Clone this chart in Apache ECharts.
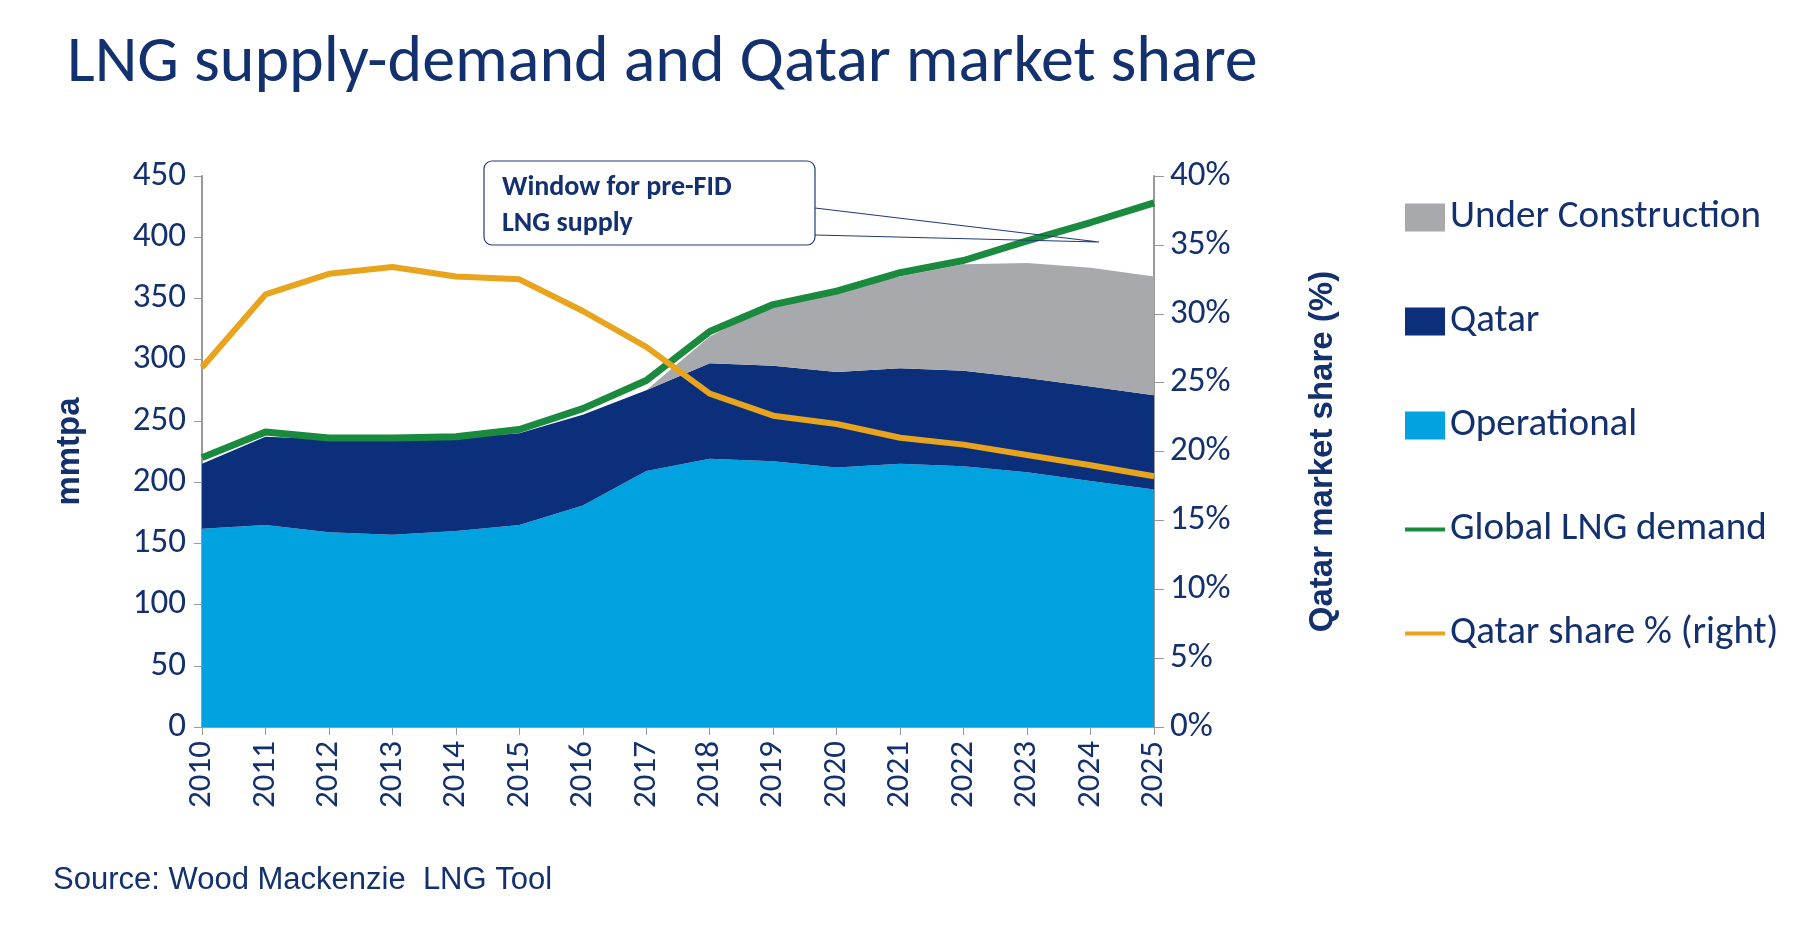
<!DOCTYPE html>
<html><head><meta charset="utf-8">
<script src="https://cdn.jsdelivr.net/npm/echarts@6/dist/echarts.min.js"></script>
<style>html,body{margin:0;padding:0;background:#fff}#c{width:1800px;height:942px}</style>
</head><body><div id="c"></div>
<script>
const years = ['2010','2011','2012','2013','2014','2015','2016','2017','2018','2019','2020','2021','2022','2023','2024','2025'];
const operational = [162,165,159,157,160,165,181,209,219,217,212,215,213,208,201,194];
const qatar = [53,72,76,78,76,75,74,66,78,78,78,78,78,77,77,77];
const underConstruction = [0,0,0,0,0,0,0,0,22,50,68,75,87,94,97,97];
const demand = [220,241,236,236,237,243,260,283,323,345,356,371,381,397,412,428];
const share = [26.1,31.4,32.9,33.4,32.7,32.5,30.2,27.6,24.2,22.6,22.0,21.0,20.5,19.75,19.0,18.2];

const navy = '#13306f';
const font = 'Calibri, Carlito, "Liberation Sans Narrow", Lato, sans-serif';
const chart = echarts.init(document.getElementById('c'));
chart.setOption({
  animation:false,
  textStyle:{fontFamily:font,color:navy},
  title:{text:'LNG supply-demand and Qatar market share',left:62,top:26,
    textStyle:{fontSize:66,fontWeight:'normal',color:navy,fontFamily:font}},
  grid:{left:202,right:646,top:176,bottom:215},
  legend:{orient:'vertical',left:1400,top:193,itemGap:65,itemWidth:40,itemHeight:28,
    textStyle:{fontSize:39,color:navy,fontFamily:font},
    data:[{name:'Under Construction',icon:'rect'},{name:'Qatar',icon:'rect'},{name:'Operational',icon:'rect'},
      {name:'Global LNG demand',icon:'path://M0,45 L100,45 L100,55 L0,55 Z',itemStyle:{color:'#1a8a3e'}},
      {name:'Qatar share % (right)',icon:'path://M0,45 L100,45 L100,55 L0,55 Z',itemStyle:{color:'#e8a41c'}}]},
  xAxis:{type:'category',data:years,boundaryGap:false,
    axisLine:{lineStyle:{color:'#9a9a9a',width:2}},
    axisTick:{show:true,alignWithLabel:true,length:8,lineStyle:{color:'#9a9a9a'}},
    axisLabel:{rotate:90,fontSize:33,color:navy,margin:14,fontFamily:font}},
  yAxis:[{type:'value',min:0,max:450,interval:50,name:'mmtpa',nameLocation:'middle',nameGap:116,
      nameTextStyle:{fontSize:33,fontWeight:'bold',color:navy,fontFamily:'"Liberation Sans", sans-serif'},
      axisLine:{show:true,lineStyle:{color:'#9a9a9a',width:2}},axisTick:{show:true,length:8,lineStyle:{color:'#9a9a9a'}},
      splitLine:{show:false},axisLabel:{fontSize:35,color:navy,margin:16,fontFamily:font}},
    {type:'value',min:0,max:40,interval:5,name:'Qatar market share (%)',nameLocation:'middle',nameGap:152,nameRotate:90,
      nameTextStyle:{fontSize:33,fontWeight:'bold',color:navy,fontFamily:'"Liberation Sans", sans-serif'},
      axisLine:{show:true,lineStyle:{color:'#9a9a9a',width:2}},axisTick:{show:true,length:10,lineStyle:{color:'#9a9a9a'}},
      splitLine:{show:false},axisLabel:{fontSize:35,color:navy,margin:16,formatter:'{value}%',fontFamily:font}}],
  series:[
    {name:'Operational',type:'line',stack:'s',data:operational,symbol:'none',lineStyle:{width:0},areaStyle:{color:'#00a3e0',opacity:1},itemStyle:{color:'#00a3e0'}},
    {name:'Qatar',type:'line',stack:'s',data:qatar,symbol:'none',lineStyle:{width:0},areaStyle:{color:'#0b2f7a',opacity:1},itemStyle:{color:'#0b2f7a'}},
    {name:'Under Construction',type:'line',stack:'s',data:underConstruction,symbol:'none',lineStyle:{width:0},areaStyle:{color:'#a7a9ac',opacity:1},itemStyle:{color:'#a7a9ac'}},
    {name:'Global LNG demand',type:'line',data:demand,symbol:'none',lineStyle:{width:7,color:'#1a8a3e'},itemStyle:{color:'#1a8a3e'}},
    {name:'Qatar share % (right)',type:'line',yAxisIndex:1,data:share,symbol:'none',lineStyle:{width:6,color:'#e8a41c'},itemStyle:{color:'#e8a41c'}}
  ],
  graphic:[
    {type:'polyline',shape:{points:[[815,208],[1099,242],[815,235]]},style:{stroke:'#1f3a7a',fill:null,lineWidth:1.2},z:100},
    {type:'rect',shape:{x:484,y:161,width:331,height:84,r:8},style:{fill:'#fff',stroke:'#1f3a7a',lineWidth:1.2},z:101},
    {type:'text',left:502,top:170,style:{text:'Window for pre-FID\nLNG supply',fontSize:28,fontWeight:'bold',fill:navy,lineHeight:36,fontFamily:font},z:102},
    {type:'text',left:53,top:865,style:{text:'Source: Wood Mackenzie  LNG Tool',fontSize:31,fill:navy,fontFamily:'"Liberation Sans", sans-serif'}}
  ]
});
</script></body></html>
